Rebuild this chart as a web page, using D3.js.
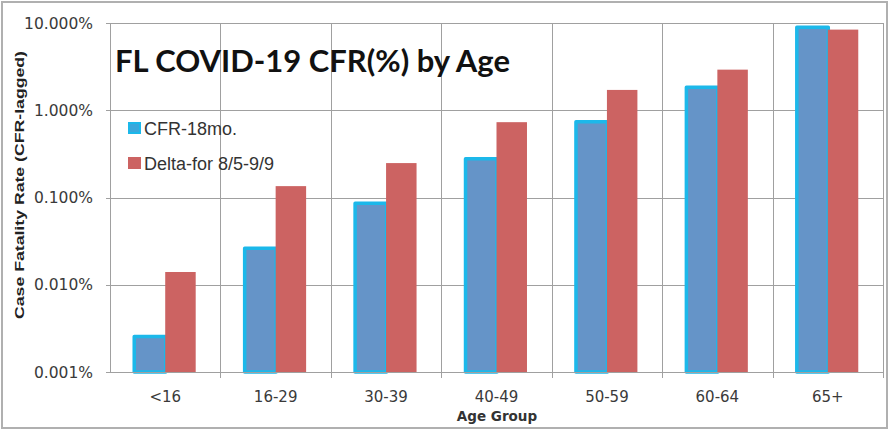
<!DOCTYPE html>
<html>
<head>
<meta charset="utf-8">
<script src="https://cdn.jsdelivr.net/npm/d3@7"></script>
<style>
  body { margin: 0; background: #fff; }
</style>
</head>
<body>
<div id="chart"></div>
<script>
const ageGroups = ['<16', '16-29', '30-39', '40-49', '50-59', '60-64', '65+']
const seriesNames = ['CFR-18mo.', 'Delta-for 8/5-9/9']
const cfr18mo = [0.00265, 0.0273, 0.0895, 0.29, 0.77, 1.91, 9.3]
const cfrDelta = [0.014, 0.135, 0.248, 0.73, 1.71, 2.92, 8.4]
const yTicks = [0.001, 0.01, 0.1, 1, 10]

const width = 896
const height = 431
const margin = { top: 23, right: 13, bottom: 59, left: 110 }
const tickFont = '"DejaVu Sans", sans-serif'

const svg = d3.select('#chart').append('svg')
    .attr('width', width)
    .attr('height', height)

// outer frame
svg.append('rect')
    .attr('x', 2).attr('y', 2)
    .attr('width', 885).attr('height', 426)
    .attr('fill', '#fff')
    .attr('stroke', '#b0b0b0')
    .attr('stroke-width', 2)

const x = d3.scaleBand()
    .domain(ageGroups)
    .range([margin.left, width - margin.right])

const xSub = d3.scaleBand()
    .domain(seriesNames)
    .range([0, x.bandwidth()])
    .paddingOuter(0.7)

const y = d3.scaleLog()
    .domain([0.001, 10])
    .range([height - margin.bottom, margin.top])

const grid = svg.append('g').attr('stroke', '#a0a0a0').attr('stroke-width', 1)

// horizontal gridlines + little ticks
grid.selectAll('.hgrid')
    .data(yTicks)
    .enter().append('line')
        .attr('x1', margin.left - 4)
        .attr('x2', width - margin.right)
        .attr('y1', d => Math.round(y(d)) + 0.5)
        .attr('y2', d => Math.round(y(d)) + 0.5)

// vertical gridlines at category boundaries
const bounds = ageGroups.map(d => x(d)).concat([x(ageGroups[ageGroups.length - 1]) + x.bandwidth()])
grid.selectAll('.vgrid')
    .data(bounds)
    .enter().append('line')
        .attr('x1', d => Math.round(d) + 0.5)
        .attr('x2', d => Math.round(d) + 0.5)
        .attr('y1', margin.top)
        .attr('y2', (d, i) => i === 0 ? height - margin.bottom : height - margin.bottom + 6)

const rows = ageGroups.map((g, i) => ({ group: g, values: [cfr18mo[i], cfrDelta[i]] }))

const groups = svg.append('g').selectAll('g')
    .data(rows)
    .enter().append('g')
        .attr('transform', d => `translate(${x(d.group)},0)`)

// CFR-18mo. bars: steel blue with cyan edge
groups.append('rect')
    .attr('x', xSub(seriesNames[0]) + 1.5)
    .attr('width', xSub.bandwidth() - 1)
    .attr('y', d => y(d.values[0]) + 1.5)
    .attr('height', d => y(0.001) - y(d.values[0]) - 1.5)
    .attr('fill', '#6594c8')
    .attr('stroke', '#1cb8ea')
    .attr('stroke-width', 3.5)
    .attr('stroke-linejoin', 'round')

// Delta bars
groups.append('rect')
    .attr('x', xSub(seriesNames[1]))
    .attr('width', xSub.bandwidth() - 2)
    .attr('y', d => y(d.values[1]))
    .attr('height', d => y(0.001) - y(d.values[1]))
    .attr('fill', '#cc6362')

// x axis line on top
svg.append('line')
    .attr('x1', margin.left - 4).attr('x2', width - margin.right)
    .attr('y1', Math.round(y(0.001)) + 0.5).attr('y2', Math.round(y(0.001)) + 0.5)
    .attr('stroke', '#a0a0a0')

// y tick labels
svg.append('g').selectAll('text')
    .data(yTicks)
    .enter().append('text')
        .attr('x', margin.left - 17)
        .attr('y', d => y(d))
        .attr('dy', '0.36em')
        .attr('text-anchor', 'end')
        .style('font-family', tickFont)
        .style('font-size', '15.5px')
        .attr('fill', '#3a3a3a')
        .text(d => d3.format('.3%')(d / 100))

// x tick labels
svg.append('g').selectAll('text')
    .data(ageGroups)
    .enter().append('text')
        .attr('x', d => x(d) + x.bandwidth() / 2)
        .attr('y', height - margin.bottom + 30)
        .attr('text-anchor', 'middle')
        .style('font-family', tickFont)
        .style('font-size', '15px')
        .attr('fill', '#3a3a3a')
        .text(d => d)

svg.append('text')
    .attr('x', 497)
    .attr('y', 421)
    .attr('text-anchor', 'middle')
    .style('font-family', tickFont)
    .style('font-size', '13.5px')
    .style('font-weight', 'bold')
    .attr('fill', '#333')
    .text('Age Group')

svg.append('text')
    .attr('transform', 'translate(24,185) rotate(-90)')
    .attr('text-anchor', 'middle')
    .style('font-family', '"Liberation Sans", Arial, sans-serif')
    .style('font-size', '13.5px')
    .style('font-weight', 'bold')
    .attr('fill', '#222')
    .attr('textLength', 268)
    .attr('lengthAdjust', 'spacingAndGlyphs')
    .text('Case Fatality Rate  (CFR-lagged)')

// title
svg.append('text')
    .attr('x', 115)
    .attr('y', 72)
    .style('font-family', 'Lato, "Open Sans", sans-serif')
    .style('font-size', '31px')
    .style('font-weight', 'bold')
    .attr('fill', '#111')
    .attr('textLength', 395)
    .attr('lengthAdjust', 'spacingAndGlyphs')
    .text('FL COVID-19 CFR(%) by Age')

// legend
const legend = svg.append('g').selectAll('g')
    .data(seriesNames)
    .enter().append('g')
        .attr('transform', (d, i) => `translate(128,${122 + i * 35})`)

legend.append('rect')
    .attr('x', (d, i) => i === 0 ? 1 : 0)
    .attr('y', (d, i) => i === 0 ? 1 : 0)
    .attr('width', (d, i) => i === 0 ? 11 : 13)
    .attr('height', (d, i) => i === 0 ? 10 : 12)
    .attr('fill', (d, i) => i === 0 ? '#3aa8dc' : '#cc6362')
    .attr('stroke', (d, i) => i === 0 ? '#1cb8ea' : 'none')
    .attr('stroke-width', 2)

legend.append('text')
    .attr('x', 16)
    .attr('y', 13)
    .style('font-family', '"Liberation Sans", Arial, sans-serif')
    .style('font-size', '18px')
    .attr('fill', '#333')
    .text(d => d)
</script>
</body>
</html>
